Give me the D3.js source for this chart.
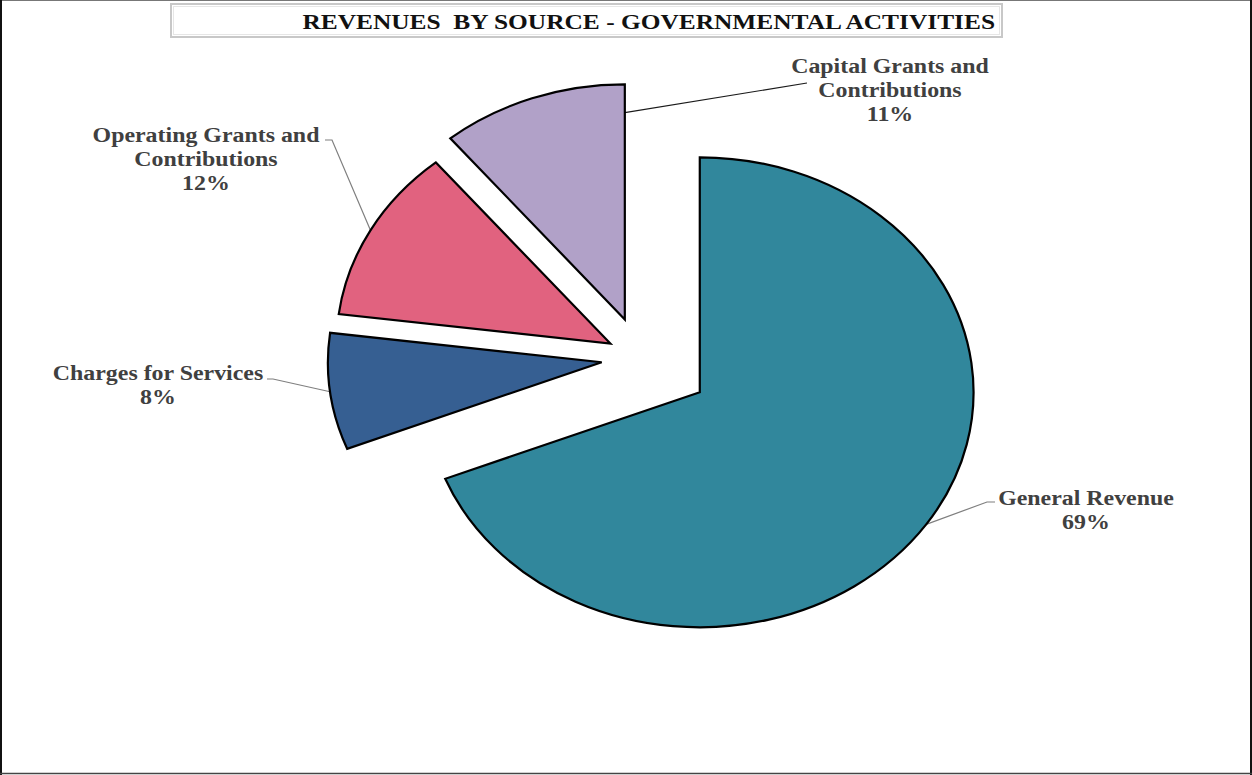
<!DOCTYPE html>
<html>
<head>
<meta charset="utf-8">
<script src="https://cdn.jsdelivr.net/npm/d3@7"></script>
<style>
  html, body { margin: 0; padding: 0; background: #fff; }
  svg { display: block; }
</style>
</head>
<body>
<svg id="chart" width="1252" height="775"></svg>
<script>
// Revenue shares by source (percent of total)
const categories = [
  "General Revenue",
  "Charges for Services",
  "Operating Grants and Contributions",
  "Capital Grants and Contributions"
];
const shares = [69, 8, 12, 11];
const labelLines = [
  ["General Revenue"],
  ["Charges for Services"],
  ["Operating Grants and", "Contributions"],
  ["Capital Grants and", "Contributions"]
];
const colors = ["#31879c", "#365f92", "#e1627f", "#b1a1c8"];
const titleText = "REVENUES  BY SOURCE - GOVERNMENTAL ACTIVITIES";

// Layout
const W = 1252, H = 775;
const cx = 641, cy = 358;      // pie centre
const R = 235;                 // radius (vertical)
const sx = 1.165;              // horizontal stretch of the drawing
const explode = [61, 34, 30, 41];
const fontSerif = "'Liberation Serif', 'Times New Roman', serif";

// label anchors: centre x, first baseline; leader: elbow points + attach spec
const labelPos = [
  { x: 1086, y: 505 },
  { x: 158,  y: 380 },
  { x: 206,  y: 142 },
  { x: 890,  y: 73  }
];
const leaderSpec = [
  { pts: [[995, 502], [987, 502]], angle: "mid", rf: 1.0, color: "#7f7f7f" },
  { pts: [[267, 379], [273, 379]], angle: "mid", rf: 1.0, color: "#7f7f7f" },
  { pts: [[325, 140], [332, 140]], angle: "mid", rf: 1.0, color: "#7f7f7f" },
  { pts: [[807, 83]],              angle: "end", rf: 0.88, color: "#1a1a1a" }
];

const svg = d3.select("#chart");

// outer frame
svg.append("line").attr("x1", 0).attr("x2", W).attr("y1", 0.5).attr("y2", 0.5)
  .attr("stroke", "#777").attr("stroke-width", 1);
svg.append("line").attr("x1", 1).attr("x2", 1).attr("y1", 0).attr("y2", H)
  .attr("stroke", "#111").attr("stroke-width", 2);
svg.append("line").attr("x1", W - 1).attr("x2", W - 1).attr("y1", 0).attr("y2", H)
  .attr("stroke", "#111").attr("stroke-width", 2);
svg.append("line").attr("x1", 0).attr("x2", W).attr("y1", H - 1.5).attr("y2", H - 1.5)
  .attr("stroke", "#444").attr("stroke-width", 1.5);

// title box
svg.append("rect").attr("x", 171).attr("y", 4).attr("width", 831).attr("height", 33)
  .attr("fill", "#fff").attr("stroke", "#c8c8c8").attr("stroke-width", 2);
svg.append("rect").attr("x", 173.5).attr("y", 6.5).attr("width", 826).attr("height", 28)
  .attr("fill", "none").attr("stroke", "#e6e6e6").attr("stroke-width", 1);
svg.append("text")
  .attr("transform", `translate(995,29) scale(${sx},1)`)
  .attr("text-anchor", "end")
  .style("white-space", "pre")
  .attr("font-family", fontSerif).attr("font-weight", "bold").attr("font-size", 21.8)
  .attr("fill", "#111")
  .text(titleText);

// pie geometry
const pie = d3.pie().sort(null).value(d => d).startAngle(0).endAngle(2 * Math.PI);
const arcs = pie(shares);
const arcGen = d3.arc().innerRadius(0).outerRadius(R);

function sliceOffset(a, i) {
  const mid = (a.startAngle + a.endAngle) / 2;
  return [cx + explode[i] * Math.sin(mid) * sx, cy - explode[i] * Math.cos(mid)];
}

// leader lines (under the slices)
const leaderG = svg.append("g");
arcs.forEach((a, i) => {
  const spec = leaderSpec[i];
  const [ox, oy] = sliceOffset(a, i);
  const ang = spec.angle === "mid" ? (a.startAngle + a.endAngle) / 2 : a.endAngle;
  const attach = [ox + spec.rf * R * Math.sin(ang) * sx, oy - spec.rf * R * Math.cos(ang)];
  const pts = spec.pts.concat([attach]);
  leaderG.append("path")
    .attr("d", d3.line()(pts))
    .attr("fill", "none")
    .attr("stroke", spec.color)
    .attr("stroke-width", 1.2);
});

// slices
const sliceG = svg.append("g");
arcs.forEach((a, i) => {
  const [ox, oy] = sliceOffset(a, i);
  sliceG.append("path")
    .attr("transform", `translate(${ox},${oy}) scale(${sx},1)`)
    .attr("d", arcGen(a))
    .attr("fill", colors[i])
    .attr("stroke", "#000")
    .attr("stroke-width", 2.2)
    .attr("stroke-linejoin", "miter")
    .attr("vector-effect", "non-scaling-stroke");
});

// data labels
const lh = 24;
arcs.forEach((a, i) => {
  const lines = labelLines[i].concat([`${shares[i]}%`]);
  const t = svg.append("text")
    .attr("transform", `translate(${labelPos[i].x},${labelPos[i].y}) scale(${sx},1)`)
    .attr("text-anchor", "middle")
    .attr("font-family", fontSerif).attr("font-weight", "bold").attr("font-size", 20.5)
    .attr("fill", "#404040");
  lines.forEach((ln, k) => {
    t.append("tspan").attr("x", 0).attr("y", k * lh).text(ln);
  });
});
</script>
</body>
</html>
